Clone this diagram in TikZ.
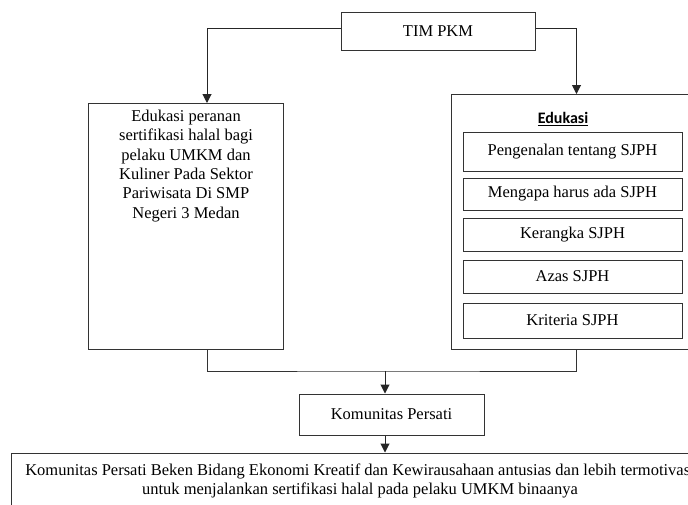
\documentclass[tikz,border=0pt]{standalone}
\usepackage{fontspec}
\setmainfont{Liberation Serif}
\newfontfamily\calfont{Carlito}
\usetikzlibrary{arrows.meta,calc}
\begin{document}
\begin{tikzpicture}[x=1pt,y=-1pt,
  box/.style={draw=black!80, line width=1pt, rectangle, inner sep=0pt, font=\fontsize{16.5}{19.3}\selectfont},
  ln/.style={draw=black!80, line width=1pt},
  arr/.style={draw=black!85, line width=1pt, -{Triangle[length=9pt,width=9pt]}},
  txt/.style={inner sep=0pt, align=center, font=\fontsize{16.5}{19.3}\selectfont}]
\useasboundingbox (0,0) rectangle (688,504);
\clip (0,0) rectangle (688,504);
\fill[white] (0,0) rectangle (688,504);
% top
\node[box, minimum width=194pt, minimum height=38pt] (tim) at (438,31) {TIM PKM};
% left box
\node[box, minimum width=195pt, minimum height=246pt, anchor=north west] (left) at (88,103) {};
\node[txt, anchor=north] (lefttext) at (186,110) {Edukasi peranan\\sertifikasi halal bagi\\pelaku UMKM dan\\Kuliner Pada Sektor\\Pariwisata Di SMP\\Negeri 3 Medan};
% right box
\node[box, minimum width=250pt, minimum height=255pt, anchor=north west] (right) at (451,94) {};
\node[inner sep=0pt, font=\calfont\bfseries\fontsize{16}{19}\selectfont] (edu) at (563,119) {\underline{Edukasi}};
\node[box, minimum width=219pt, minimum height=39pt] (s1) at (572.5,151.5) {Pengenalan tentang SJPH};
\node[box, minimum width=219pt, minimum height=32pt] (s2) at (572.5,194) {Mengapa harus ada SJPH};
\node[box, minimum width=219pt, minimum height=33pt] (s3) at (572.5,234.5) {Kerangka SJPH};
\node[box, minimum width=219pt, minimum height=33pt] (s4) at (572.5,276.5) {Azas SJPH};
\node[box, minimum width=219pt, minimum height=35pt] (s5) at (572.5,320.5) {Kriteria SJPH};
% komunitas
\node[box, minimum width=185pt, minimum height=41pt] (kom) at (391.5,414.5) {Komunitas Persati};
% bottom
\node[box, minimum width=698pt, minimum height=59pt] (bot) at (360,482.5) {};
\node[txt, font=\fontsize{16.5}{18.5}\selectfont] (bottext) at (360,481) {Komunitas Persati Beken Bidang Ekonomi Kreatif dan Kewirausahaan antusias dan lebih termotivasi\\untuk menjalankan sertifikasi halal pada pelaku UMKM binaanya};
% connectors
\draw[arr] ([yshift=3pt]tim.west) -| ([xshift=119pt]left.north west);
\draw[arr] ([yshift=3pt]tim.east) -| (right.north);
\coordinate (jn) at (385,371);
\draw[ln] ([xshift=119pt]left.south west) |- (jn) -| (right.south);
\draw[arr] (jn) -- (jn |- kom.north);
\draw[arr] (jn |- kom.south) -- (jn |- bot.north);
\end{tikzpicture}
\end{document}
